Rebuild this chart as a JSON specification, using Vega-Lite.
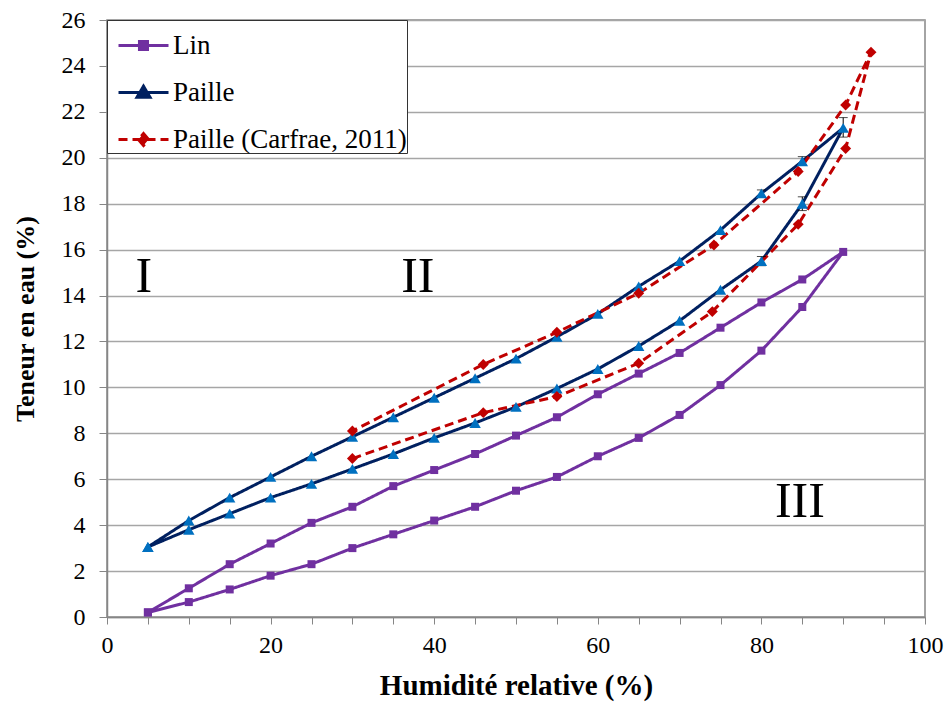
{
  "$schema": "https://vega.github.io/schema/vega-lite/v6.json",
  "autosize": "none",
  "padding": {"left": 107, "top": 20, "right": 19, "bottom": 85},
  "width": 818,
  "height": 597,
  "background": "white",
  "config": {
    "view": {"stroke": "#868686", "strokeWidth": 1.5},
    "font": "Times New Roman",
    "legend": {
      "orient": "top-left",
      "offset": 0,
      "title": null,
      "fillColor": "white",
      "strokeColor": "#333333",
      "padding": 0,
      "labelFont": "Times New Roman",
      "labelFontSize": 27,
      "labelColor": "black",
      "labelLimit": 400,
      "labelOffset": 15,
      "symbolSize": 2304,
      "symbolStrokeWidth": 3,
      "symbolOpacity": 1,
      "rowPadding": 8
    }
  },
  "datasets": {
    "curves": [
      {"s": "Lin", "o": 1, "rh": 5, "w": 0.2},
      {"s": "Lin", "o": 2, "rh": 10, "w": 0.65},
      {"s": "Lin", "o": 3, "rh": 15, "w": 1.2},
      {"s": "Lin", "o": 4, "rh": 20, "w": 1.8},
      {"s": "Lin", "o": 5, "rh": 25, "w": 2.3},
      {"s": "Lin", "o": 6, "rh": 30, "w": 3.0},
      {"s": "Lin", "o": 7, "rh": 35, "w": 3.6},
      {"s": "Lin", "o": 8, "rh": 40, "w": 4.2},
      {"s": "Lin", "o": 9, "rh": 45, "w": 4.8},
      {"s": "Lin", "o": 10, "rh": 50, "w": 5.5},
      {"s": "Lin", "o": 11, "rh": 55, "w": 6.1},
      {"s": "Lin", "o": 12, "rh": 60, "w": 7.0},
      {"s": "Lin", "o": 13, "rh": 65, "w": 7.8},
      {"s": "Lin", "o": 14, "rh": 70, "w": 8.8},
      {"s": "Lin", "o": 15, "rh": 75, "w": 10.1},
      {"s": "Lin", "o": 16, "rh": 80, "w": 11.6},
      {"s": "Lin", "o": 17, "rh": 85, "w": 13.5},
      {"s": "Lin", "o": 18, "rh": 90, "w": 15.9},
      {"s": "Lin", "o": 19, "rh": 85, "w": 14.7},
      {"s": "Lin", "o": 20, "rh": 80, "w": 13.7},
      {"s": "Lin", "o": 21, "rh": 75, "w": 12.6},
      {"s": "Lin", "o": 22, "rh": 70, "w": 11.5},
      {"s": "Lin", "o": 23, "rh": 65, "w": 10.6},
      {"s": "Lin", "o": 24, "rh": 60, "w": 9.7},
      {"s": "Lin", "o": 25, "rh": 55, "w": 8.7},
      {"s": "Lin", "o": 26, "rh": 50, "w": 7.9},
      {"s": "Lin", "o": 27, "rh": 45, "w": 7.1},
      {"s": "Lin", "o": 28, "rh": 40, "w": 6.4},
      {"s": "Lin", "o": 29, "rh": 35, "w": 5.7},
      {"s": "Lin", "o": 30, "rh": 30, "w": 4.8},
      {"s": "Lin", "o": 31, "rh": 25, "w": 4.1},
      {"s": "Lin", "o": 32, "rh": 20, "w": 3.2},
      {"s": "Lin", "o": 33, "rh": 15, "w": 2.3},
      {"s": "Lin", "o": 34, "rh": 10, "w": 1.25},
      {"s": "Lin", "o": 35, "rh": 5, "w": 0.2},
      {"s": "Paille", "o": 1, "rh": 5, "w": 3.05},
      {"s": "Paille", "o": 2, "rh": 10, "w": 3.8},
      {"s": "Paille", "o": 3, "rh": 15, "w": 4.5},
      {"s": "Paille", "o": 4, "rh": 20, "w": 5.2},
      {"s": "Paille", "o": 5, "rh": 25, "w": 5.8},
      {"s": "Paille", "o": 6, "rh": 30, "w": 6.45},
      {"s": "Paille", "o": 7, "rh": 35, "w": 7.1},
      {"s": "Paille", "o": 8, "rh": 40, "w": 7.8},
      {"s": "Paille", "o": 9, "rh": 45, "w": 8.45},
      {"s": "Paille", "o": 10, "rh": 50, "w": 9.15},
      {"s": "Paille", "o": 11, "rh": 55, "w": 9.95},
      {"s": "Paille", "o": 12, "rh": 60, "w": 10.8},
      {"s": "Paille", "o": 13, "rh": 65, "w": 11.8},
      {"s": "Paille", "o": 14, "rh": 70, "w": 12.9},
      {"s": "Paille", "o": 15, "rh": 75, "w": 14.25},
      {"s": "Paille", "o": 16, "rh": 80, "w": 15.5},
      {"s": "Paille", "o": 17, "rh": 85, "w": 18.0},
      {"s": "Paille", "o": 18, "rh": 90, "w": 21.3},
      {"s": "Paille", "o": 19, "rh": 85, "w": 19.85},
      {"s": "Paille", "o": 20, "rh": 80, "w": 18.45},
      {"s": "Paille", "o": 21, "rh": 75, "w": 16.85},
      {"s": "Paille", "o": 22, "rh": 70, "w": 15.5},
      {"s": "Paille", "o": 23, "rh": 65, "w": 14.4},
      {"s": "Paille", "o": 24, "rh": 60, "w": 13.2},
      {"s": "Paille", "o": 25, "rh": 55, "w": 12.2},
      {"s": "Paille", "o": 26, "rh": 50, "w": 11.25},
      {"s": "Paille", "o": 27, "rh": 45, "w": 10.4},
      {"s": "Paille", "o": 28, "rh": 40, "w": 9.55},
      {"s": "Paille", "o": 29, "rh": 35, "w": 8.7},
      {"s": "Paille", "o": 30, "rh": 30, "w": 7.85},
      {"s": "Paille", "o": 31, "rh": 25, "w": 7.0},
      {"s": "Paille", "o": 32, "rh": 20, "w": 6.1},
      {"s": "Paille", "o": 33, "rh": 15, "w": 5.2},
      {"s": "Paille", "o": 34, "rh": 10, "w": 4.2},
      {"s": "Paille", "o": 35, "rh": 5, "w": 3.05},
      {"s": "Paille (Carfrae, 2011)", "o": 1, "rh": 30, "w": 6.9},
      {"s": "Paille (Carfrae, 2011)", "o": 2, "rh": 46, "w": 8.9},
      {"s": "Paille (Carfrae, 2011)", "o": 3, "rh": 55, "w": 9.6},
      {"s": "Paille (Carfrae, 2011)", "o": 4, "rh": 65, "w": 11.05},
      {"s": "Paille (Carfrae, 2011)", "o": 5, "rh": 74, "w": 13.3},
      {"s": "Paille (Carfrae, 2011)", "o": 6, "rh": 84.5, "w": 17.1},
      {"s": "Paille (Carfrae, 2011)", "o": 7, "rh": 90.3, "w": 20.4},
      {"s": "Paille (Carfrae, 2011)", "o": 8, "rh": 93.4, "w": 24.6},
      {"s": "Paille (Carfrae, 2011)", "o": 9, "rh": 90.3, "w": 22.3},
      {"s": "Paille (Carfrae, 2011)", "o": 10, "rh": 84.5, "w": 19.4},
      {"s": "Paille (Carfrae, 2011)", "o": 11, "rh": 74.2, "w": 16.2},
      {"s": "Paille (Carfrae, 2011)", "o": 12, "rh": 65, "w": 14.1},
      {"s": "Paille (Carfrae, 2011)", "o": 13, "rh": 55, "w": 12.4},
      {"s": "Paille (Carfrae, 2011)", "o": 14, "rh": 46, "w": 11.0},
      {"s": "Paille (Carfrae, 2011)", "o": 15, "rh": 30, "w": 8.1}
    ],
    "ebars": [
      {"rh": 80, "lo": 15.3, "hi": 15.7},
      {"rh": 80, "lo": 18.3, "hi": 18.6},
      {"rh": 85, "lo": 17.7, "hi": 18.3},
      {"rh": 85, "lo": 19.7, "hi": 20.05},
      {"rh": 90, "lo": 20.9, "hi": 21.75}
    ],
    "zones": [
      {"rh": 10},
      {"rh": 50}
    ],
    "labels": [
      {"t": "I", "rh": 4.5, "w": 14.8},
      {"t": "II", "rh": 38, "w": 14.8},
      {"t": "III", "rh": 84.7, "w": 5.0}
    ]
  },
  "encoding": {
    "x": {
      "field": "rh",
      "type": "quantitative",
      "scale": {"domain": [0, 100], "nice": false, "zero": false},
      "axis": {
        "title": "Humidité relative (%)",
        "titleFont": "Times New Roman",
        "titleFontSize": 29,
        "titleFontWeight": "bold",
        "titleColor": "black",
        "titlePadding": 14,
        "values": [0, 5, 10, 15, 20, 25, 30, 35, 40, 45, 50, 55, 60, 65, 70, 75, 80, 85, 90, 95, 100],
        "labelExpr": "datum.value % 20 === 0 ? datum.label : ''",
        "labelFont": "Times New Roman",
        "labelFontSize": 24,
        "labelColor": "black",
        "labelPadding": 9,
        "labelFlush": false,
        "tickSize": 7,
        "tickColor": "#868686",
        "domainColor": "#868686",
        "domainWidth": 1.5,
        "grid": false
      }
    },
    "y": {
      "field": "w",
      "type": "quantitative",
      "scale": {"domain": [0, 26], "nice": false},
      "axis": {
        "title": "Teneur en eau (%)",
        "titleFont": "Times New Roman",
        "titleFontSize": 26,
        "titleFontWeight": "bold",
        "titleColor": "black",
        "titlePadding": 23,
        "values": [0, 2, 4, 6, 8, 10, 12, 14, 16, 18, 20, 22, 24, 26],
        "labelFont": "Times New Roman",
        "labelFontSize": 24,
        "labelColor": "black",
        "labelPadding": 14,
        "labelFlush": false,
        "tickSize": 8,
        "tickColor": "#868686",
        "domainColor": "#868686",
        "domainWidth": 1.5,
        "grid": true,
        "gridColor": "#a6a6a6",
        "gridWidth": 1.5
      }
    }
  },
  "layer": [
    {
      "data": {"name": "zones"},
      "mark": {"type": "rule", "color": "#1F7DCB", "strokeWidth": 2.5, "strokeDash": [9, 7]},
      "encoding": {
        "x": {"field": "rh", "type": "quantitative"},
        "y": {"datum": 0},
        "y2": {"datum": 20}
      }
    },
    {
      "data": {"name": "curves"},
      "mark": {"type": "line", "strokeWidth": 3},
      "encoding": {
        "order": {"field": "o", "type": "quantitative"},
        "color": {
          "field": "s",
          "type": "nominal",
          "scale": {"domain": ["Lin", "Paille", "Paille (Carfrae, 2011)"], "range": ["#7030A0", "#002060", "#C00000"]}
        },
        "strokeDash": {
          "field": "s",
          "type": "nominal",
          "scale": {"domain": ["Lin", "Paille", "Paille (Carfrae, 2011)"], "range": [[1, 0], [1, 0], [9, 5]]}
        }
      }
    },
    {
      "data": {"name": "ebars"},
      "mark": {"type": "errorbar", "ticks": {"size": 9, "color": "black", "strokeWidth": 1.2}, "color": "black", "strokeWidth": 1.2},
      "encoding": {
        "x": {"field": "rh", "type": "quantitative"},
        "y": {"field": "lo", "type": "quantitative"},
        "y2": {"field": "hi"}
      }
    },
    {
      "data": {"name": "curves"},
      "transform": [{"filter": "datum.s === 'Lin'"}],
      "mark": {"type": "point", "shape": "square", "filled": true, "size": 64, "color": "#7030A0", "opacity": 1}
    },
    {
      "data": {"name": "curves"},
      "transform": [{"filter": "datum.s === 'Paille'"}],
      "mark": {"type": "point", "shape": "triangle-up", "filled": true, "size": 130, "color": "#0070C0", "opacity": 1}
    },
    {
      "data": {"name": "curves"},
      "transform": [{"filter": "datum.s === 'Paille (Carfrae, 2011)'"}],
      "mark": {"type": "point", "shape": "diamond", "filled": true, "size": 120, "color": "#C00000", "opacity": 1}
    },
    {
      "data": {"name": "curves"},
      "mark": {"type": "point", "filled": true, "opacity": 0},
      "encoding": {
        "color": {"field": "s", "type": "nominal"},
        "shape": {
          "field": "s",
          "type": "nominal",
          "scale": {
            "domain": ["Lin", "Paille", "Paille (Carfrae, 2011)"],
            "range": [
              "M-0.583,0H1.5M0.29,-0.167H0.625V0.167H0.29Z",
              "M-0.583,0H1.5M0.458,-0.26L0.73,0.2H0.186Z",
              "M-0.583,0H1.5M0.458,-0.25L0.67,0L0.458,0.25L0.246,0Z"
            ]
          }
        }
      }
    },
    {
      "data": {"name": "labels"},
      "mark": {"type": "text", "fontSize": 50, "color": "black", "baseline": "middle", "align": "center"},
      "encoding": {
        "text": {"field": "t", "type": "nominal"}
      }
    }
  ]
}
